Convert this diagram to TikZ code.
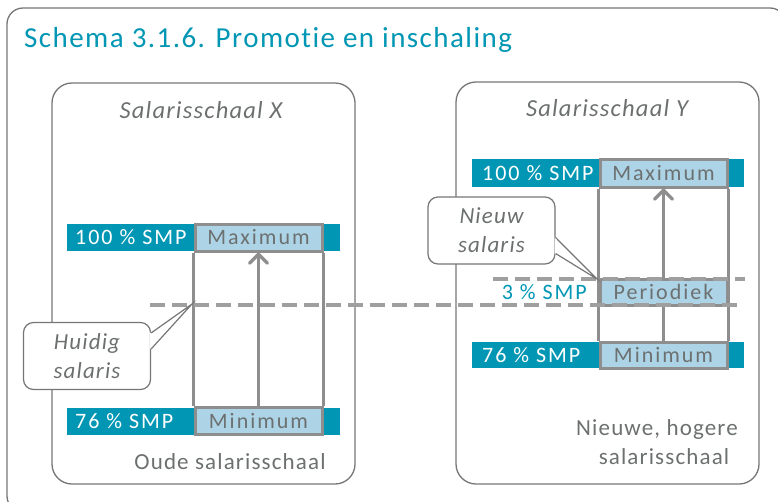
\documentclass[tikz,border=0pt]{standalone}
\usepackage{fontspec}
\setmainfont{Carlito}
\newfontfamily\calfont[LetterSpace=5,Ligatures={NoCommon}]{Carlito}
\newfontfamily\widefont[LetterSpace=9,Ligatures={NoCommon}]{Carlito}
\usetikzlibrary{arrows.meta}
\definecolor{teal0}{HTML}{0096B4}
\definecolor{lightb}{HTML}{ACD4E6}
\definecolor{boxgray}{HTML}{8E8E8E}
\definecolor{framegray}{HTML}{767676}
\definecolor{txtgray}{HTML}{6D7070}
\begin{document}
\begin{tikzpicture}[x=1pt,y=-1pt,
  frame/.style={draw=framegray,line width=1.3pt,rounded corners=16pt},
  panel/.style={draw=framegray,line width=1.3pt,rounded corners=20pt},
  bar/.style={fill=teal0,minimum height=27pt,minimum width=273pt,inner sep=0pt},
  valbox/.style={fill=lightb,draw=boxgray,line width=3pt,minimum width=127pt,minimum height=27pt,inner sep=0pt,text=txtgray,font=\widefont\fontsize{22}{22}\selectfont},
  bartext/.style={text=white,inner sep=0pt,font=\widefont\fontsize{22}{22}\selectfont},
  rail/.style={draw=boxgray,line width=3pt},
  uparrow/.style={draw=boxgray,line width=3.5pt,-{Straight Barb[length=9pt,width=18pt,line cap=round,line join=round]}},
  level/.style={draw=boxgray!85,line width=3.5pt,dash pattern=on 15pt off 7pt},
  scaletitle/.style={text=txtgray,font=\calfont\itshape\fontsize{24.5}{24.5}\selectfont},
  callout/.style={draw=framegray,fill=white,line width=1.2pt,rounded corners=10pt,minimum width=127pt,minimum height=67pt,align=center,text=txtgray,font=\calfont\itshape\fontsize{23}{29}\selectfont,inner sep=0pt},
  pointer/.style={draw=framegray,line width=1.2pt,line join=miter},
  caption/.style={text=txtgray,align=center,font=\calfont\fontsize{23}{29}\selectfont,inner sep=0pt}
]
\useasboundingbox (0,0) rectangle (778,501);
% outer frame
\draw[frame] (7,8) rectangle (786,512);
\node[anchor=base west,inner sep=0pt,text=teal0,font=\calfont\fontsize{29}{29}\selectfont] (title) at (24,47) {Schema 3.1.6. Promotie en inschaling};

% panels
\draw[panel] (52,83) rectangle (355,484);
\draw[panel] (456,82) rectangle (759,484);

\node[scaletitle] (tx) at (201,110) {Salarisschaal X};
\node[scaletitle] (ty) at (607,108) {Salarisschaal Y};

% left panel
\node[bar] (barxmax) at (203.5,237.5) {};
\node[bar] (barxmin) at (203.5,421) {};
\node[valbox] (maxx) at (258.5,237.5) {Maximum};
\node[valbox] (minx) at (258.5,421) {Minimum};
\node[bartext,anchor=west] (lxmax) at (75,237.5) {100 \% SMP};
\node[bartext,anchor=west] (lxmin) at (75,421) {76 \% SMP};
\draw[rail] (maxx.south west) -- (minx.north west);
\draw[rail] (maxx.south east) -- (minx.north east);
\draw[uparrow] (minx.north) -- (maxx.south);

% right panel
\node[bar,minimum height=28pt,minimum width=272pt] (barymax) at (608,173) {};
\node[bar,minimum width=272pt,minimum height=26pt] (barymin) at (608,355) {};
\node[valbox,minimum height=28pt] (maxy) at (663.5,173) {Maximum};
\node[valbox,minimum height=26pt] (per) at (663.5,292) {Periodiek};
\node[valbox,minimum height=26pt] (miny) at (663.5,355) {Minimum};
\node[bartext,anchor=west] (lymax) at (482,173) {100 \% SMP};
\node[bartext,anchor=west] (lymin) at (482,355) {76 \% SMP};
\node[bartext,anchor=east,text=teal0] (lper) at (587,292) {3 \% SMP};
\draw[rail] (maxy.south west) -- (miny.north west);
\draw[rail] (maxy.south east) -- (miny.north east);
\draw[uparrow] (per.north) -- (maxy.south);
\draw[rail] (miny.north) -- (per.south);

% level lines
\coordinate (l1a) at (150,305);
\coordinate (l1b) at (743,305);
\coordinate (l2a) at (493,279);
\coordinate (l2b) at (745,279);
\draw[level] (l1a) -- (l1b);
\draw[level] (l2a) -- (l2b);

% callouts
\node[callout] (hc) at (87,356) {Huidig\\salaris};
\coordinate (htip) at (192,304);
\fill[white] ([shift={(-1,-23)}]hc.east) -- (htip) -- ([shift={(-1,-7)}]hc.east) -- cycle;
\draw[pointer] ([shift={(0,-23)}]hc.east) -- (htip) -- ([shift={(0,-7)}]hc.east);

\node[callout] (nc) at (491.5,230.5) {Nieuw\\salaris};
\coordinate (ntip) at (597,279);
\fill[white] ([shift={(-1,7)}]nc.east) -- (ntip) -- ([shift={(-1,23)}]nc.east) -- cycle;
\draw[pointer] ([shift={(0,7)}]nc.east) -- (ntip) -- ([shift={(0,23)}]nc.east);

% captions
\node[caption] (cx) at (230,462) {Oude salarisschaal};
\node[caption] (cy) at (664,442) {Nieuwe, hogere\hspace*{14pt}\\salarisschaal};
\end{tikzpicture}
\end{document}
